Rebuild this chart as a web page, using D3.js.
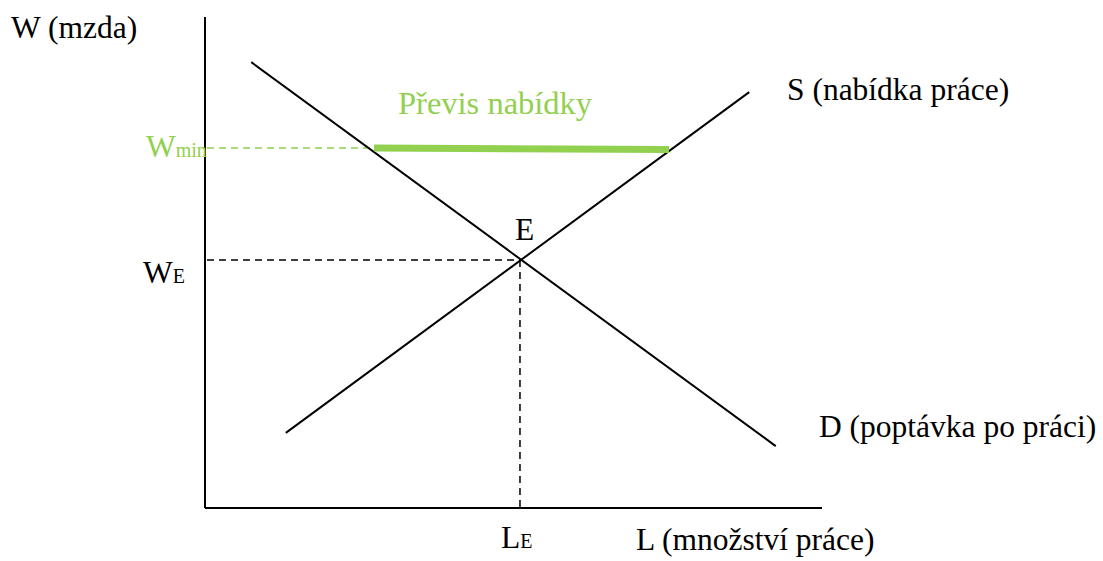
<!DOCTYPE html>
<html>
<head>
<meta charset="utf-8">
<script src="https://cdn.jsdelivr.net/npm/d3@7"></script>
<style>
  body { margin: 0; background: #fff; }
</style>
</head>
<body>
<div id="chart"></div>
<script>
const width = 1103, height = 561;
const green = "#92d050";
const serif = "'Liberation Serif', 'Times New Roman', serif";

// line end points in chart units (0..100)
const demand = [{x: 7.5, y: 90.8}, {x: 92.5, y: 12.6}];
const supply = [{x: 13.1, y: 15.3}, {x: 88.2, y: 84.7}];
const equilibrium = {x: 51.05, y: 50.5};
const wMin = 73.3;
const surplus = [{x: 27.4, y: 73.3}, {x: 75.2, y: 73.0}];

const svg = d3.select("#chart")
  .append("svg")
    .attr("width", width)
    .attr("height", height);

const xScale = d3.scaleLinear().domain([0, 100]).range([205, 822]);
const yScale = d3.scaleLinear().domain([0, 100]).range([508, 17]);

const line = d3.line().x(d => xScale(d.x)).y(d => yScale(d.y));

// axes
svg.append("line")
  .attr("x1", xScale(0)).attr("y1", yScale(0))
  .attr("x2", xScale(0)).attr("y2", yScale(100))
  .attr("stroke", "#000").attr("stroke-width", 2);
svg.append("line")
  .attr("x1", xScale(0)).attr("y1", yScale(0))
  .attr("x2", xScale(100)).attr("y2", yScale(0))
  .attr("stroke", "#000").attr("stroke-width", 2);

// dashed guides to equilibrium
svg.append("line")
  .attr("x1", xScale(0) + 2).attr("y1", yScale(equilibrium.y))
  .attr("x2", xScale(equilibrium.x)).attr("y2", yScale(equilibrium.y))
  .attr("stroke", "#000").attr("stroke-width", 1.5)
  .attr("stroke-dasharray", "7,5");
svg.append("line")
  .attr("x1", xScale(equilibrium.x)).attr("y1", yScale(equilibrium.y))
  .attr("x2", xScale(equilibrium.x)).attr("y2", yScale(0))
  .attr("stroke", "#000").attr("stroke-width", 1.5)
  .attr("stroke-dasharray", "7,5");

// min wage dashed line
svg.append("line")
  .attr("x1", xScale(0) + 2).attr("y1", yScale(wMin))
  .attr("x2", xScale(surplus[0].x)).attr("y2", yScale(wMin))
  .attr("stroke", green).attr("stroke-width", 1.5)
  .attr("stroke-dasharray", "7,5");

// demand and supply
svg.append("path").attr("d", line(demand))
  .attr("fill", "none").attr("stroke", "#000").attr("stroke-width", 2);
svg.append("path").attr("d", line(supply))
  .attr("fill", "none").attr("stroke", "#000").attr("stroke-width", 2);

// surplus
svg.append("path").attr("d", line(surplus))
  .attr("fill", "none").attr("stroke", green).attr("stroke-width", 7);

// labels
const label = (x, y, txt, sub, color = "#000", size = 31.5) => {
  const t = svg.append("text")
    .attr("x", x).attr("y", y)
    .attr("fill", color)
    .attr("font-family", serif)
    .attr("font-size", size + "px")
    .text(txt);
  if (sub) t.append("tspan").attr("font-size", "20px").text(sub);
};

label(11, 38, "W (mzda)");
label(398, 114, "Převis nabídky", null, green, 32.5);
label(787, 100, "S (nabídka práce)");
label(819, 437, "D (poptávka po práci)");
label(636, 550, "L (množství práce)");
label(501, 548, "L", "E");
label(143, 283, "W", "E");
label(146, 157, "W", "min", green);
label(515, 240, "E");
</script>
</body>
</html>
